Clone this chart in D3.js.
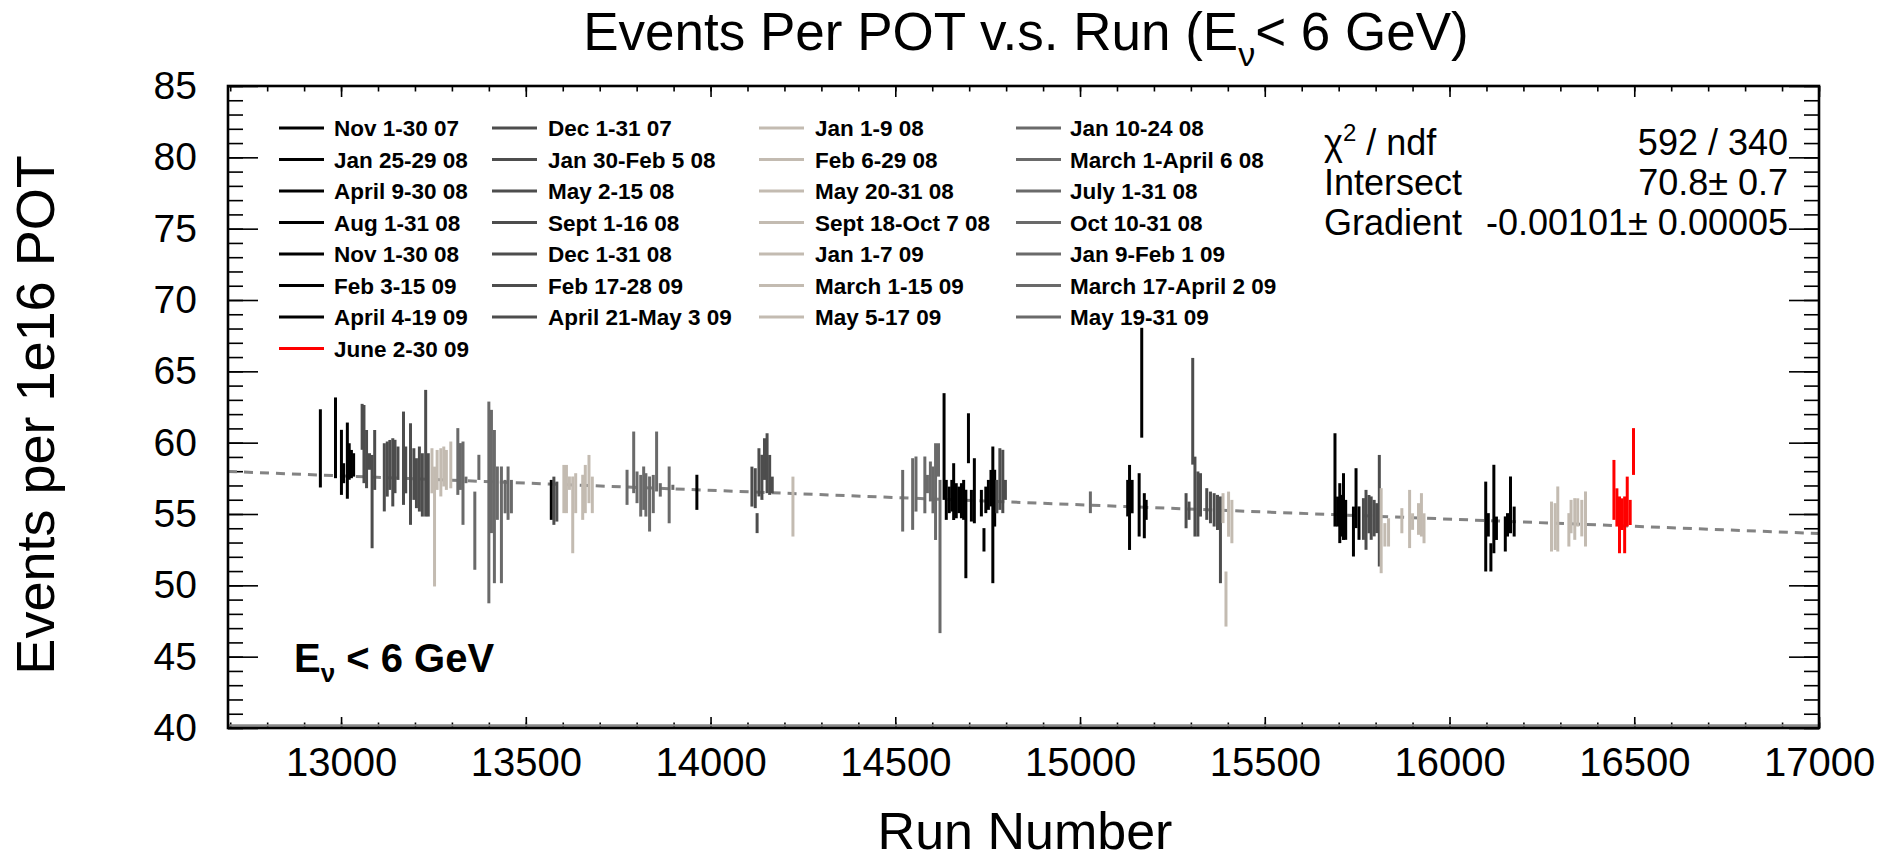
<!DOCTYPE html>
<html>
<head>
<meta charset="utf-8">
<script src="https://d3js.org/d3.v7.min.js"></script>
<style>
body { margin: 0; background: #ffffff; }
text { font-family: "Liberation Sans", Arial, Helvetica, sans-serif; }
</style>
</head>
<body>
<div id="events_per_pot"></div>
<script>

var width_c = 1894
var height_c = 860

// run periods, in time order (legend is filled 4 per row from this list)
var period_labels = ['Nov 1-30 07', 'Dec 1-31 07', 'Jan 1-9 08', 'Jan 10-24 08',
  'Jan 25-29 08', 'Jan 30-Feb 5 08', 'Feb 6-29 08', 'March 1-April 6 08',
  'April 9-30 08', 'May 2-15 08', 'May 20-31 08', 'July 1-31 08',
  'Aug 1-31 08', 'Sept 1-16 08', 'Sept 18-Oct 7 08', 'Oct 10-31 08',
  'Nov 1-30 08', 'Dec 1-31 08', 'Jan 1-7 09', 'Jan 9-Feb 1 09',
  'Feb 3-15 09', 'Feb 17-28 09', 'March 1-15 09', 'March 17-April 2 09',
  'April 4-19 09', 'April 21-May 3 09', 'May 5-17 09', 'May 19-31 09',
  'June 2-30 09']

var period_colours = ['#000000', '#4d4d4d', '#c3bbb1', '#6a6a6a']
var last_period_colour = '#ff0000'

// one entry per run: run number, events per 1e16 POT, error, period index
var run_number = [
  12944, 12985, 13001, 13007, 13017, 13022, 13028, 13034,
  13057, 13062, 13069, 13077, 13084, 13091, 13117, 13125, 13132, 13140, 13146, 13154, 13169, 13175, 13188, 13197, 13204, 13212, 13220, 13229, 13236,
  13246, 13253, 13260, 13270, 13278, 13285, 13297,
  13316, 13323, 13330, 13338, 13362, 13373, 13400, 13407, 13415, 13423, 13434, 13444, 13452, 13461,
  13569,
  13576, 13584,
  13603, 13610, 13618, 13627, 13635, 13654, 13661, 13671, 13680,
  13774, 13792, 13801, 13811, 13819, 13825, 13835, 13845, 13854, 13864, 13888, 13898,
  13963,
  14112, 14121, 14126, 14131, 14139, 14146, 14153, 14160, 14167,
  14223,
  14520, 14547, 14556, 14580, 14587, 14595, 14602, 14609, 14617, 14621,
  14632, 14638, 14646, 14653, 14658, 14665, 14672, 14679, 14685, 14691, 14698, 14706, 14714, 14733, 14740, 14745, 14752, 14759, 14764, 14769,
  14775, 14783, 14791, 14798,
  15028,
  15129, 15134, 15141, 15160, 15167, 15174, 15179,
  15287, 15295, 15305, 15311, 15319, 15326, 15343, 15353, 15363, 15372, 15380,
  15387, 15395, 15402, 15411,
  15690, 15697, 15703, 15709, 15713, 15719, 15740, 15747, 15755,
  15767, 15774, 15782, 15788, 15796, 15803, 15810,
  15815, 15825, 15835, 15871, 15892, 15900, 15916, 15924, 15931,
  16098, 16105, 16112, 16120, 16127, 16151, 16157, 16165, 16175,
  16276, 16286, 16293, 16323, 16329, 16339, 16347, 16358, 16368,
  16445, 16453, 16460, 16467, 16474, 16481, 16489, 16498]

var events_per_pot = [
  59.60, 60.34, 58.62, 57.86, 58.74, 58.68, 58.50, 58.44,
  61.11, 59.90, 58.85, 58.68, 55.87, 58.79, 57.57, 58.15, 58.44, 57.92, 58.33, 58.56, 58.91, 58.09, 57.80, 57.80, 57.16, 57.45, 57.04, 59.26, 57.04,
  58.03, 54.12, 58.09, 57.92, 58.33, 58.09, 58.44,
  58.68, 58.33, 57.16, 57.39, 53.83, 58.27, 55.81, 57.98, 55.52, 56.46, 54.24, 56.22, 56.46, 56.22,
  55.99,
  55.93, 55.87,
  56.75, 56.75, 57.16, 54.94, 56.46, 56.17, 56.75, 57.45, 56.34,
  56.87, 58.62, 56.87, 56.28, 56.81, 56.34, 55.70, 56.40, 58.68, 56.69, 56.34, 56.87,
  56.52,
  56.92, 56.81, 54.36, 57.92, 57.57, 58.85, 58.56, 57.74, 57.04,
  55.52,
  55.93, 56.40, 57.10, 57.04, 57.10, 57.28, 56.69, 56.57, 58.79, 52.02,
  59.73, 55.99, 55.99, 56.28, 56.57, 55.93, 55.99, 55.93, 55.99, 53.60, 60.31, 55.58, 56.63, 55.76, 53.19, 55.99, 56.34, 56.81, 54.94, 56.11,
  56.22, 57.45, 57.28, 56.69,
  55.82,
  56.11, 55.46, 56.22, 55.64, 64.20, 54.88, 55.29,
  55.23, 55.23, 62.20, 56.22, 55.70, 56.34, 55.70, 55.46, 55.29, 55.11, 53.19,
  55.41, 49.04, 54.99, 54.47,
  57.39, 55.17, 55.06, 54.88, 55.52, 54.59, 53.77, 56.11, 54.36,
  54.65, 54.59, 54.99, 54.71, 54.71, 54.71, 55.23,
  53.83, 53.54, 53.71, 54.53, 54.65, 54.47, 54.65, 54.94, 54.00,
  54.12, 54.24, 51.96, 55.35, 54.00, 53.60, 54.24, 55.64, 54.47,
  54.12, 54.12, 54.65, 53.89, 54.82, 54.65, 55.11, 54.71, 54.65,
  56.69, 55.46, 54.24, 54.99, 54.24, 55.87, 55.11, 59.38]

var stat_error = [
  2.74, 2.83, 2.28, 0.70, 2.67, 1.28, 0.99, 0.82,
  1.61, 2.74, 2.04, 0.58, 3.27, 2.10, 2.39, 1.93, 1.75, 2.39, 1.87, 1.17, 3.27, 1.64, 3.56, 1.81, 1.75, 2.28, 2.22, 4.44, 2.22,
  1.58, 4.20, 1.40, 1.69, 1.40, 1.40, 1.64,
  2.34, 1.64, 2.92, 0.23, 2.74, 0.88, 7.07, 4.32, 5.37, 1.87, 4.09, 1.17, 1.87, 1.17,
  1.40,
  1.69, 1.40,
  1.69, 1.69, 0.47, 2.69, 1.40, 1.58, 1.69, 1.69, 1.28,
  1.23, 2.16, 1.11, 1.46, 1.52, 1.52, 1.93, 1.34, 2.10, 0.47, 1.99, 0.18,
  1.23,
  1.40, 1.40, 0.70, 1.69, 1.58, 1.46, 2.10, 1.40, 0.58,
  2.10,
  2.16, 2.51, 1.93, 1.99, 0.64, 1.40, 1.64, 3.39, 1.17, 5.37,
  3.74, 1.40, 0.93, 1.11, 1.99, 1.23, 0.93, 1.23, 1.40, 3.10, 1.75, 1.11, 2.28, 0.93, 0.82, 0.93, 1.05, 1.28, 4.79, 1.99,
  1.17, 2.16, 2.22, 0.70,
  0.76,
  1.28, 2.98, 1.17, 2.22, 3.85, 1.58, 0.70,
  1.23, 0.64, 3.74, 2.80, 2.28, 1.52, 1.11, 1.11, 1.17, 1.23, 3.04,
  1.05, 1.93, 1.58, 1.52,
  3.27, 1.05, 2.10, 1.46, 2.34, 1.40, 1.75, 2.10, 1.17,
  1.46, 2.10, 1.34, 1.52, 1.28, 1.05, 3.91,
  2.98, 0.82, 0.99, 0.88, 2.04, 0.58, 1.11, 1.52, 1.05,
  3.15, 0.82, 0.99, 3.10, 0.82, 1.23, 0.82, 1.99, 1.05,
  1.75, 1.64, 2.28, 1.17, 1.17, 1.46, 0.99, 1.28, 1.93,
  2.10, 1.34, 1.99, 1.11, 1.99, 1.75, 0.88, 1.64]

var period_index = [
  0, 0, 0, 0, 0, 0, 0, 0,
  1, 1, 1, 1, 1, 1, 1, 1, 1, 1, 1, 1, 1, 1, 1, 1, 1, 1, 1, 1, 1,
  2, 2, 2, 2, 2, 2, 2,
  3, 3, 3, 3, 3, 3, 3, 3, 3, 3, 3, 3, 3, 3,
  4,
  5, 5,
  6, 6, 6, 6, 6, 6, 6, 6, 6,
  7, 7, 7, 7, 7, 7, 7, 7, 7, 7, 7, 7,
  8,
  9, 9, 9, 9, 9, 9, 9, 9, 9,
  10,
  11, 11, 11, 11, 11, 11, 11, 11, 11, 11,
  12, 12, 12, 12, 12, 12, 12, 12, 12, 12, 12, 12, 12, 12, 12, 12, 12, 12, 12, 12,
  13, 13, 13, 13,
  15,
  16, 16, 16, 16, 16, 16, 16,
  17, 17, 17, 17, 17, 17, 17, 17, 17, 17, 17,
  18, 18, 18, 18,
  20, 20, 20, 20, 20, 20, 20, 20, 20,
  21, 21, 21, 21, 21, 21, 21,
  22, 22, 22, 22, 22, 22, 22, 22, 22,
  24, 24, 24, 24, 24, 24, 24, 24, 24,
  26, 26, 26, 26, 26, 26, 26, 26, 26,
  28, 28, 28, 28, 28, 28, 28, 28]

// straight line fit results (shown in the stats box)
var fit_ndf = '592 / 340'
var fit_intersect = 70.8
var fit_intersect_err = 0.7
var fit_gradient = -0.00101
var fit_gradient_err = 0.00005

var x_ticks_major = [13000, 13500, 14000, 14500, 15000, 15500, 16000, 16500, 17000]
var y_ticks_major = [40, 45, 50, 55, 60, 65, 70, 75, 80, 85]

function period_colour(i) {
  if (i === period_labels.length - 1) return last_period_colour
  return period_colours[i % 4]
}

var points = run_number.map(function(d, i) {
  return {run: d, value: events_per_pot[i], err: stat_error[i], period: period_index[i]}
})

var x = d3.scaleLinear()
.domain([12694, 17000])
.range([228, 1819])

var y = d3.scaleLinear()
.domain([40, 85])
.range([728, 86])

var svg = d3.select('#events_per_pot')
  .append('svg')
  .attr('width', width_c)
  .attr('height', height_c)

// minor and major ticks, ROOT style (inside, on all four sides)
var x_minor = d3.range(12700, 17001, 100)
var y_minor = d3.range(40, 85.5, 1)

svg.append('g')
.attr('transform', 'translate(0,' + y(40) + ')')
.call(d3.axisBottom(x).tickValues(x_minor).tickSize(-5.5).tickFormat(''))
.call(function(g) { g.select('.domain').remove() })
.selectAll('line').attr('stroke-width', 1.6)

svg.append('g')
.attr('transform', 'translate(0,' + y(85) + ')')
.call(d3.axisTop(x).tickValues(x_minor).tickSize(-5.5).tickFormat(''))
.call(function(g) { g.select('.domain').remove() })
.selectAll('line').attr('stroke-width', 1.6)

svg.append('g')
.attr('transform', 'translate(0,' + y(85) + ')')
.call(d3.axisTop(x).tickValues(x_ticks_major).tickSize(-11).tickFormat(''))
.call(function(g) { g.select('.domain').remove() })
.selectAll('line').attr('stroke-width', 1.6)

svg.append('g')
.attr('transform', 'translate(' + x.range()[0] + ',0)')
.call(d3.axisLeft(y).tickValues(y_minor).tickSize(-15).tickFormat(''))
.call(function(g) { g.select('.domain').remove() })
.selectAll('line').attr('stroke-width', 1.6)

svg.append('g')
.attr('transform', 'translate(' + x.range()[1] + ',0)')
.call(d3.axisRight(y).tickValues(y_minor).tickSize(-15).tickFormat(''))
.call(function(g) { g.select('.domain').remove() })
.selectAll('line').attr('stroke-width', 1.6)

svg.append('g')
.attr('transform', 'translate(' + x.range()[1] + ',0)')
.call(d3.axisRight(y).tickValues(y_ticks_major).tickSize(-30).tickFormat(''))
.call(function(g) { g.select('.domain').remove() })
.selectAll('line').attr('stroke-width', 1.6)

// labelled axes
var x_axis = svg.append('g')
.attr('transform', 'translate(0,' + y(40) + ')')
.call(d3.axisBottom(x).tickValues(x_ticks_major).tickSize(-11).tickPadding(20).tickFormat(d3.format('d')))

x_axis.select('.domain').remove()
x_axis.selectAll('line').attr('stroke-width', 1.6)
x_axis.selectAll('text')
.style('font-size', '40px')
.attr('fill', '#000')

var y_axis = svg.append('g')
.attr('transform', 'translate(' + x.range()[0] + ',0)')
.call(d3.axisLeft(y).tickValues(y_ticks_major).tickSize(-30).tickPadding(31).tickFormat(d3.format('d')))

y_axis.select('.domain').remove()
y_axis.selectAll('line').attr('stroke-width', 1.6)
y_axis.selectAll('text')
.style('font-size', '39px')
.attr('fill', '#000')

// fitted straight line
var fit_runs = x.domain()

svg.append('line')
.attr('x1', x(fit_runs[0]))
.attr('x2', x(fit_runs[1]))
.attr('y1', y(fit_intersect + fit_gradient * fit_runs[0]))
.attr('y2', y(fit_intersect + fit_gradient * fit_runs[1]))
.attr('stroke', '#838383')
.attr('stroke-width', 3)
.attr('stroke-dasharray', '9,7')

// error bars, one per run
svg.append('g')
.selectAll('line')
.data(points)
.enter()
.append('line')
.attr('x1', function(d) { return x(d.run) })
.attr('x2', function(d) { return x(d.run) })
.attr('y1', function(d) { return y(d.value + d.err) })
.attr('y2', function(d) { return y(d.value - d.err) })
.attr('stroke', function(d) { return period_colour(d.period) })
.attr('stroke-width', 3)

// frame
svg.append('line')
.attr('x1', x.range()[0])
.attr('x2', x.range()[1])
.attr('y1', y(40) - 2.5)
.attr('y2', y(40) - 2.5)
.attr('stroke', '#8a8a8a')
.attr('stroke-width', 2.5)

svg.append('rect')
.attr('x', x.range()[0])
.attr('y', y(85))
.attr('width', x.range()[1] - x.range()[0])
.attr('height', y(40) - y(85))
.attr('fill', 'none')
.attr('stroke', '#000')
.attr('stroke-width', 2.6)

// legend, 4 columns
var legend_line_x = [279, 492, 759, 1016]
var legend_text_x = [334, 548, 815, 1070]

var legend = svg.append('g')
.selectAll('g')
.data(period_labels)
.enter()
.append('g')
.attr('transform', function(d, i) {
  return 'translate(0,' + (128 + Math.floor(i / 4) * 31.5) + ')' })

legend
.append('line')
.attr('x1', function(d, i) { return legend_line_x[i % 4] })
.attr('x2', function(d, i) { return legend_line_x[i % 4] + 45 })
.attr('y1', 0)
.attr('y2', 0)
.attr('stroke', function(d, i) { return period_colour(i) })
.attr('stroke-width', 3)

legend
.append('text')
.attr('x', function(d, i) { return legend_text_x[i % 4] })
.attr('y', 8)
.text(function(d) { return d })
.style('font-size', '22.5px')
.style('font-weight', 'bold')

// stats box
var stats_rows = [
  {label: 'chi', value: fit_ndf},
  {label: 'Intersect', value: fit_intersect + '\u00b1 ' + fit_intersect_err},
  {label: 'Gradient', value: fit_gradient + '\u00b1 ' + d3.format('.5f')(fit_gradient_err)}]

stats_rows.forEach(function(r, i) {
  var t = svg.append('text')
  .attr('x', 1324)
  .attr('y', 155 + i * 40)
  .style('font-size', '36px')
  if (r.label === 'chi') {
    t.append('tspan').text('\u03c7')
    t.append('tspan').attr('dy', -14).style('font-size', '24px').text('2')
    t.append('tspan').attr('dy', 14).text(' / ndf')
  } else {
    t.text(r.label)
  }
  svg.append('text')
  .attr('x', 1788)
  .attr('y', 155 + i * 40)
  .attr('text-anchor', 'end')
  .style('font-size', '36px')
  .text(r.value)
})

// energy cut label
var cut = svg.append('text')
.attr('x', 294)
.attr('y', 672)
.style('font-size', '40px')
.style('font-weight', 'bold')

cut.append('tspan').text('E')
cut.append('tspan').attr('dy', 10).style('font-size', '26px').text('\u03bd')
cut.append('tspan').attr('dy', -10).text(' < 6 GeV')

// titles
var title = svg.append('text')
.attr('x', 1026)
.attr('y', 50)
.attr('text-anchor', 'middle')
.style('font-size', '53px')

title.append('tspan').text('Events Per POT v.s. Run (E')
title.append('tspan').attr('dy', 16).style('font-size', '34px').text('\u03bd')
title.append('tspan').attr('dy', -16).text('< 6 GeV)')

svg.append('text')
.attr('x', 1025)
.attr('y', 849)
.attr('text-anchor', 'middle')
.style('font-size', '52px')
.text('Run Number')

svg.append('text')
.attr('transform', 'translate(54,415) rotate(-90)')
.attr('text-anchor', 'middle')
.style('font-size', '54px')
.text('Events per 1e16 POT')

</script>
</body>
</html>
